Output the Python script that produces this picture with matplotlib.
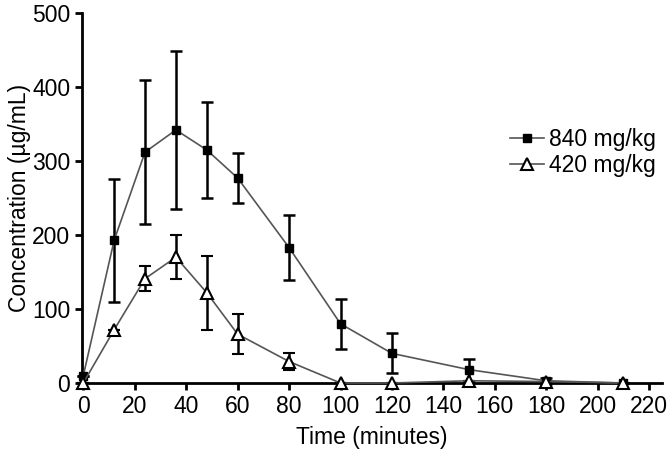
import matplotlib
matplotlib.use("Agg")
import matplotlib.pyplot as plt
from matplotlib.lines import Line2D

plt.rcParams['font.family'] = ['Liberation Sans', 'DejaVu Sans']

# sampling times (minutes)
time_840 = [0, 12, 24, 36, 48, 60, 80, 100, 120, 150, 180, 210]
conc_840 = [10, 193, 312, 342, 315, 277, 183, 80, 40, 18, 3, 0]
err_840 = [0, 83, 97, 107, 65, 34, 44, 34, 27, 15, 4, 0]

time_420 = [0, 12, 24, 36, 48, 60, 80, 100, 120, 150, 180, 210]
conc_420 = [0, 72, 141, 170, 122, 66, 29, 0, 0, 3, 2, 0]
err_420 = [0, 0, 17, 30, 50, 27, 12, 0, 0, 0, 0, 0]

fs = 16.5

fig = plt.figure(figsize=(6.69, 4.49), dpi=100)
ax = fig.add_axes([0.1226, 0.147, 0.867, 0.824])

sq = dict(color='#555555', lw=1.2, marker='s', ms=5.5, mfc='black', mec='black')
tri = dict(color='#555555', lw=1.2, marker='^', ms=9, mfc='white', mec='black', mew=1.5)

ax.errorbar(time_840, conc_840, yerr=err_840, ecolor='black', elinewidth=1.8,
            capsize=4, capthick=1.8, zorder=3, clip_on=False, **sq)
ax.errorbar(time_420, conc_420, yerr=err_420, ecolor='black', elinewidth=1.8,
            capsize=4, capthick=1.8, zorder=4, clip_on=False, **tri)

ax.set_xlim(-0.5, 225)
ax.set_ylim(0, 500)
ax.set_xticks(range(0, 221, 20))
ax.set_yticks(range(0, 501, 100))
for s in ['top', 'right']:
    ax.spines[s].set_visible(False)
for s in ['left', 'bottom']:
    ax.spines[s].set_linewidth(2)
ax.tick_params(direction='out', length=5, width=2, labelsize=fs)
ax.set_xlabel('Time (minutes)', fontsize=fs, labelpad=6)
ax.set_ylabel('Concentration (µg/mL)', fontsize=fs, labelpad=1)

handles = [Line2D([], [], **sq), Line2D([], [], **tri)]
ax.legend(handles, ['840 mg/kg', '420 mg/kg'], loc='upper right',
          bbox_to_anchor=(1.025, 0.745), frameon=False, fontsize=fs,
          handlelength=1.5, handletextpad=0.2, labelspacing=0.12)

fig.savefig('out.png', dpi=100)
